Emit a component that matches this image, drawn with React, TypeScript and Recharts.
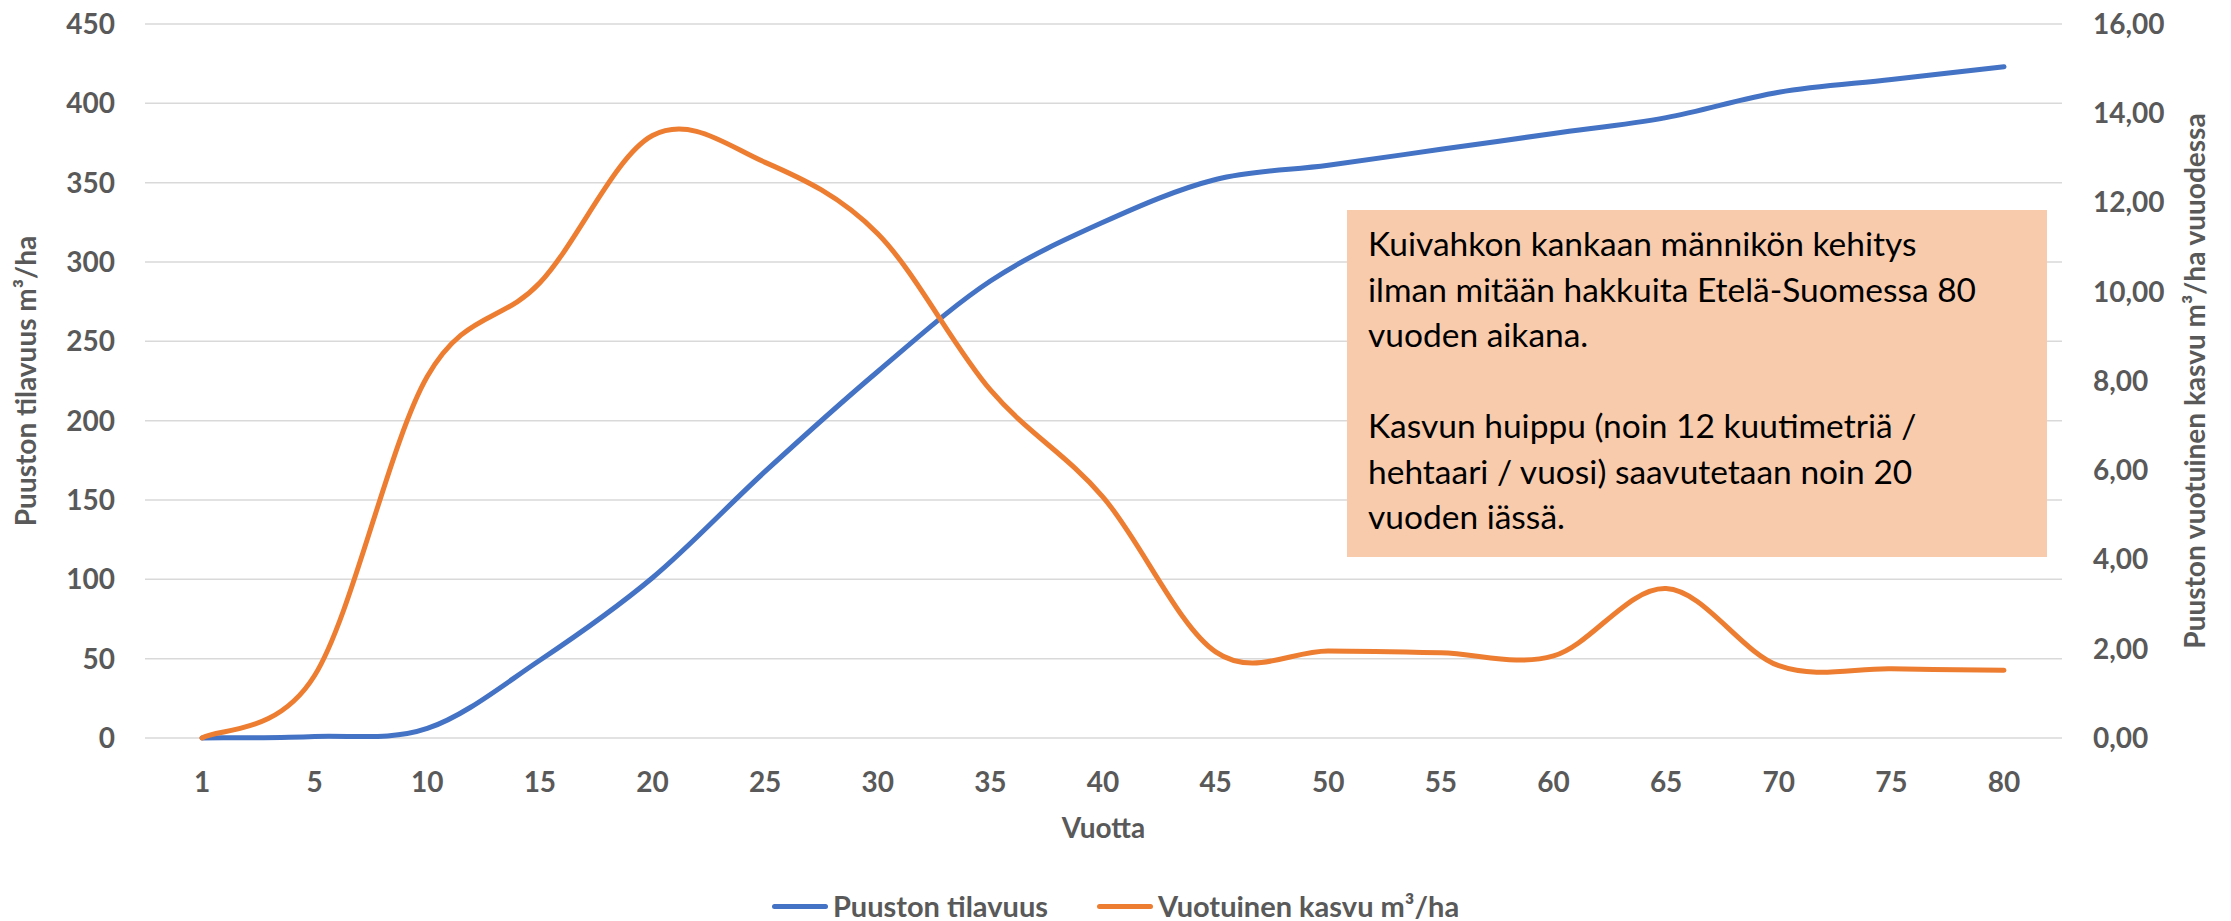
import React from "react";
import {
  LineChart,
  Line,
  XAxis,
  YAxis,
  CartesianGrid,
  Legend,
} from "recharts";

// ikä vuosina (x-akselin luokat)
const years = [1, 5, 10, 15, 20, 25, 30, 35, 40, 45, 50, 55, 60, 65, 70, 75, 80];
// puuston tilavuus m3/ha (vasen akseli)
const volume = [0, 1, 6, 49, 101, 168, 231, 288, 325, 352, 361, 371, 381, 391, 407, 415, 423];
// vuotuinen kasvu m3/ha (oikea akseli)
const growth = [0, 1.4, 8.1, 10.2, 13.5, 12.9, 11.3, 7.8, 5.4, 1.93, 1.95, 1.91, 1.84, 3.35, 1.62, 1.55, 1.52];

const leftTicks = [0, 50, 100, 150, 200, 250, 300, 350, 400, 450];
const rightTicks = [0, 2, 4, 6, 8, 10, 12, 14, 16];

const noteLines = [
  "Kuivahkon kankaan männikön kehitys",
  "ilman mitään hakkuita Etelä-Suomessa 80",
  "vuoden aikana.",
  "",
  "Kasvun huippu (noin 12 kuutimetriä /",
  "hehtaari / vuosi) saavutetaan noin 20",
  "vuoden iässä.",
];

const data = years.map((year, i) => ({
  year,
  volume: volume[i],
  growth: growth[i],
}));

const FONT = "Lato, 'Open Sans', sans-serif";
const GRAY = "#595959";

// Excelin "tasoitettu viiva": Catmull-Rom -tyyppiset bezier-segmentit
const excelSmooth = (context: any) => {
  let pts: [number, number][] = [];
  return {
    areaStart() {},
    areaEnd() {},
    lineStart() {
      pts = [];
    },
    point(x: number, y: number) {
      pts.push([+x, +y]);
    },
    lineEnd() {
      const n = pts.length;
      if (!n) return;
      context.moveTo(pts[0][0], pts[0][1]);
      for (let i = 0; i < n - 1; i++) {
        const p0 = pts[i > 0 ? i - 1 : 0];
        const p1 = pts[i];
        const p2 = pts[i + 1];
        const p3 = pts[i + 2 < n ? i + 2 : n - 1];
        context.bezierCurveTo(
          p1[0] + (p2[0] - p0[0]) / 6,
          p1[1] + (p2[1] - p0[1]) / 6,
          p2[0] - (p3[0] - p1[0]) / 6,
          p2[1] - (p3[1] - p1[1]) / 6,
          p2[0],
          p2[1]
        );
      }
    },
  };
};

const tickStyle = {
  fill: GRAY,
  fontSize: 28,
  fontWeight: 700,
  fontFamily: FONT,
};

const renderLegend = (props: any) => {
  const { payload = [] } = props;
  return (
    <div
      style={{
        display: "flex",
        justifyContent: "center",
        alignItems: "center",
        height: 30,
        gap: 49,
        fontFamily: FONT,
        fontSize: 29,
        fontWeight: 700,
        color: GRAY,
        lineHeight: "30px",
        whiteSpace: "nowrap",
      }}
    >
      {payload.map((entry: any) => (
        <div key={entry.value} style={{ display: "flex", alignItems: "center" }}>
          <span
            style={{
              display: "inline-block",
              width: 56,
              height: 5,
              borderRadius: 3,
              background: entry.color,
              marginRight: 5,
            }}
          />
          <span>{entry.value}</span>
        </div>
      ))}
    </div>
  );
};

export default function App() {
  return (
    <div
      style={{
        position: "relative",
        width: 2231,
        height: 921,
        background: "#fff",
        fontFamily: FONT,
      }}
    >
      <style>{"body{margin:0}"}</style>
      <LineChart
        width={2231}
        height={921}
        data={data}
        margin={{ top: 24, right: 0, left: 0, bottom: 0 }}
      >
        <CartesianGrid
          yAxisId="left"
          vertical={false}
          stroke="#d9d9d9"
          strokeWidth={1.5}
        />
        <XAxis
          dataKey="year"
          interval={0}
          padding={{ left: 57, right: 58 }}
          axisLine={false}
          tickLine={false}
          tickSize={0}
          tickMargin={34}
          height={153}
          tick={tickStyle}
          label={{
            value: "Vuotta",
            position: "insideTop",
            offset: 80,
            style: { fill: GRAY, fontSize: 28, fontWeight: 700, fontFamily: FONT },
          }}
        />
        <YAxis
          yAxisId="left"
          domain={[0, 450]}
          ticks={leftTicks}
          interval={0}
          width={145}
          axisLine={false}
          tickLine={false}
          tickSize={0}
          tickMargin={30}
          tick={tickStyle}
          label={{
            value: "Puuston tilavuus m³/ha",
            angle: -90,
            position: "insideLeft",
            offset: 26,
            style: {
              textAnchor: "middle",
              fill: GRAY,
              fontSize: 28,
              fontWeight: 700,
              fontFamily: FONT,
            },
          }}
        />
        <YAxis
          yAxisId="right"
          orientation="right"
          domain={[0, 16]}
          ticks={rightTicks}
          interval={0}
          width={169}
          axisLine={false}
          tickLine={false}
          tickSize={0}
          tickMargin={31}
          tick={tickStyle}
          tickFormatter={(v: number) => v.toFixed(2).replace(".", ",")}
          label={{
            value: "Puuston vuotuinen kasvu m³/ha vuuodessa",
            angle: -90,
            position: "insideRight",
            offset: 36,
            style: {
              textAnchor: "middle",
              fill: GRAY,
              fontSize: 28,
              fontWeight: 700,
              fontFamily: FONT,
            },
          }}
        />
        <Legend verticalAlign="bottom" content={renderLegend} />
        <Line
          yAxisId="left"
          type={excelSmooth as any}
          dataKey="volume"
          name="Puuston tilavuus"
          stroke="#4472C4"
          strokeWidth={5}
          strokeLinecap="round"
          dot={false}
          activeDot={false}
          isAnimationActive={false}
        />
        <Line
          yAxisId="right"
          type={excelSmooth as any}
          dataKey="growth"
          name="Vuotuinen kasvu m³/ha"
          stroke="#ED7D31"
          strokeWidth={5}
          strokeLinecap="round"
          dot={false}
          activeDot={false}
          isAnimationActive={false}
        />
      </LineChart>
      <div
        style={{
          position: "absolute",
          left: 1347,
          top: 210,
          width: 700,
          height: 347,
          boxSizing: "border-box",
          background: "#F8CBAD",
          padding: "11px 0 0 21px",
          fontFamily: FONT,
          fontSize: 33.5,
          lineHeight: "45.5px",
          color: "#000",
          whiteSpace: "pre",
        }}
      >
        {noteLines.map((line, i) => (
          <div key={i} style={{ height: 45.5 }}>
            {line}
          </div>
        ))}
      </div>
    </div>
  );
}
